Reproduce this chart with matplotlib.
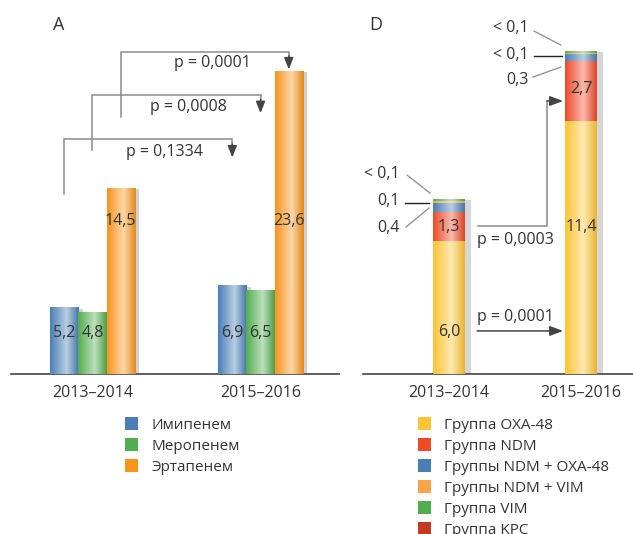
import numpy as np
import matplotlib
matplotlib.use("Agg")
import matplotlib.pyplot as plt
from matplotlib.colors import LinearSegmentedColormap, to_rgb
from matplotlib.patches import Patch
import matplotlib.patheffects as pe

plt.rcParams['font.family'] = ['Open Sans', 'DejaVu Sans']

# ---------------- data ----------------
periods = ["2013–2014", "2015–2016"]

# Panel A
drugs = ["Имипенем", "Меропенем", "Эртапенем"]
imipenem = [5.2, 6.9]
meropenem = [4.8, 6.5]
ertapenem = [14.5, 23.6]
a_labels = [["5,2", "6,9"], ["4,8", "6,5"], ["14,5", "23,6"]]
a_pvalues = ["p = 0,1334", "p = 0,0008", "p = 0,0001"]

# Panel D (stacked)
groups = ["Группа OXA-48", "Группа NDM", "Группы NDM + OXA-48",
          "Группы NDM + VIM", "Группа VIM", "Группа KPC"]
oxa48 = [6.0, 11.4]
ndm = [1.3, 2.7]
ndm_oxa = [0.4, 0.3]
ndm_vim = [0.1, 0.05]
vim = [0.1, 0.1]
kpc = [0.0, 0.0]
d_pvalues = ["p = 0,0003", "p = 0,0001"]
side_2013 = ["< 0,1", "0,1", "0,4"]
side_2015 = ["< 0,1", "< 0,1", "0,3"]

# ---------------- style ----------------
c_blue = "#4a7fb6"
c_green = "#52ad4f"
c_orange = "#f7941d"
c_yellow = "#fdc435"
c_red = "#ee4a2a"
c_orange2 = "#f8a54a"
c_kpc = "#c23a22"
txt = "#333333"
gray = "#8c8c8c"

def grad_cmap(base):
    b = np.array(to_rgb(base))
    light = b + (1 - b) * 0.62
    dark = b * 0.92
    return LinearSegmentedColormap.from_list(
        "g", [(0, b), (0.58, light), (1, dark)])

def shade_bars(ax, bars, color):
    cm = grad_cmap(color)
    g = np.linspace(0, 1, 64).reshape(1, -1)
    for r in bars:
        x, y, w, h = r.get_x(), r.get_y(), r.get_width(), r.get_height()
        if h <= 0:
            continue
        im = ax.imshow(g, cmap=cm, extent=(x, x + w, y, y + h),
                       aspect='auto', zorder=3, interpolation='bicubic')
        im.set_clip_path(r)

W, H = 633, 534
fig = plt.figure(figsize=(W / 100, H / 100), dpi=100)

# ---------------- Panel A ----------------
axA = fig.add_axes([11 / W, 160 / H, 328 / W, 374 / H])
xa = np.arange(len(periods))
bw = 0.168
offs = [-bw, 0, bw]
seriesA = [imipenem, meropenem, ertapenem]
colsA = [c_blue, c_green, c_orange]
barsA = []
shadow = [pe.SimplePatchShadow(offset=(3, -1), shadow_rgbFace='#999999', alpha=0.45),
          pe.Normal()]
for vals, col, o in zip(seriesA, colsA, offs):
    b = axA.bar(xa + o, vals, bw, color=col, zorder=2, linewidth=0)
    for r in b:
        r.set_path_effects(shadow)
    shade_bars(axA, b, col)
    barsA.append(b)

label_y_A = [3.2, 3.2, 11.9]
for i, b in enumerate(barsA):
    for j, r in enumerate(b):
        axA.text(r.get_x() + r.get_width() / 2, label_y_A[i], a_labels[i][j],
                 ha='center', va='center', fontsize=11.5, color=txt, zorder=5)

axA.set_xlim(-0.485, 1.467)
axA.set_ylim(0, 29.1)
for s in ["top", "right", "left"]:
    axA.spines[s].set_visible(False)
axA.spines["bottom"].set_color("#444444")
axA.spines["bottom"].set_linewidth(1.2)
axA.set_yticks([])
axA.set_xticks(xa)
axA.set_xticklabels(periods, fontsize=11.5, color=txt)
axA.tick_params(axis='x', length=0, pad=8)

# brackets
br_start = [14.0, 17.4, 20.0]
br_top = [18.3, 21.7, 25.06]
br_end = [16.85, 20.3, 23.7]
p_pos = [(0.426, 17.3), (0.568, 20.8), (0.711, 24.2)]
for k in range(3):
    x0 = xa[0] + offs[k]
    x1 = xa[1] + offs[k]
    axA.plot([x0, x0, x1, x1], [br_start[k], br_top[k], br_top[k], br_end[k] + 1.0],
             color=gray, lw=1.1, zorder=4, solid_joinstyle='miter')
    axA.annotate("", xy=(x1, br_end[k]), xytext=(x1, br_end[k] + 1.05),
                 arrowprops=dict(arrowstyle="-|>,head_length=0.7,head_width=0.28",
                                 color="#444444", lw=1.1, shrinkA=0, shrinkB=0),
                 zorder=4)
    axA.text(p_pos[k][0], p_pos[k][1], a_pvalues[k], ha='center', va='center',
             fontsize=11.5, color=txt, zorder=5)

fig.text(59 / W, 1 - 25 / H, "A", fontsize=13, color=txt, ha='center', va='center')

handlesA = [Patch(facecolor=c, edgecolor='none') for c in colsA]
fig.legend(handlesA, drugs, loc='upper left',
           bbox_to_anchor=(111 / W, 1 - 403 / H), frameon=False,
           fontsize=11, handlelength=0.85, handleheight=1.0,
           handletextpad=0.9, labelspacing=0.32, labelcolor=txt)

# ---------------- Panel D ----------------
axD = fig.add_axes([363 / W, 160 / H, 270 / W, 374 / H])
xd = np.arange(len(periods))
dw = 0.242
stack = [oxa48, ndm, ndm_oxa, ndm_vim, vim, kpc]
colsD = [c_yellow, c_red, c_blue, c_orange2, c_green, c_kpc]
bottom = np.zeros(len(periods))
shadowD = [pe.SimplePatchShadow(offset=(4, -1), shadow_rgbFace='#999999', alpha=0.4),
           pe.Normal()]
for vals, col in zip(stack, colsD):
    b = axD.bar(xd, vals, dw, bottom=bottom, color=col, zorder=2, linewidth=0)
    for r in b:
        r.set_path_effects(shadowD)
    shade_bars(axD, b, col)
    bottom = bottom + np.array(vals)

axD.text(xd[0], 1.89, "6,0", ha='center', va='center', fontsize=11.5, color=txt, zorder=5)
axD.text(xd[0], 6.62, "1,3", ha='center', va='center', fontsize=11.5, color=txt, zorder=5)
axD.text(xd[1], 6.62, "11,4", ha='center', va='center', fontsize=11.5, color=txt, zorder=5)
axD.text(xd[1], 12.84, "2,7", ha='center', va='center', fontsize=11.5, color=txt, zorder=5)

axD.set_xlim(-0.652, 1.394)
axD.set_ylim(0, 16.85)
for s in ["top", "right", "left"]:
    axD.spines[s].set_visible(False)
axD.spines["bottom"].set_color("#444444")
axD.spines["bottom"].set_linewidth(1.2)
axD.set_yticks([])
axD.set_xticks(xd)
axD.set_xticklabels(periods, fontsize=11.5, color=txt)
axD.tick_params(axis='x', length=0, pad=8)

# side labels with leader lines
side_y13 = [9.0, 7.8, 6.58]
lines13 = [((-0.318, 8.96), (-0.144, 8.15)), ((-0.333, 7.70), (-0.152, 7.70)),
           ((-0.326, 6.62), (-0.152, 7.48))]
for t, yy in zip(side_2013, side_y13):
    axD.text(-0.371, yy, t, ha='right', va='center', fontsize=11.5, color=txt)
for k, ln in enumerate(lines13):
    axD.plot([ln[0][0], ln[1][0]], [ln[0][1], ln[1][1]],
             color="#222222" if k == 1 else gray, lw=1.0 if k == 1 else 0.9)

side_y15 = [15.59, 14.37, 13.24]
lines15 = [((0.644, 15.45), (0.848, 14.82)), ((0.644, 14.32), (0.856, 14.32)),
           ((0.636, 13.38), (0.848, 13.83))]
for t, yy in zip(side_2015, side_y15):
    axD.text(0.606, yy, t, ha='right', va='center', fontsize=11.5, color=txt)
for k, ln in enumerate(lines15):
    axD.plot([ln[0][0], ln[1][0]], [ln[0][1], ln[1][1]],
             color="#222222" if k == 1 else gray, lw=1.0 if k == 1 else 0.9)

# p-value arrows
y_start = oxa48[0] + ndm[0] / 2
axD.plot([0.22, 0.742, 0.742], [y_start, y_start, 12.3], color=gray, lw=1.1,
         solid_joinstyle='miter')
axD.annotate("", xy=(0.864, 12.3), xytext=(0.742, 12.3),
             arrowprops=dict(arrowstyle="-|>,head_length=0.8,head_width=0.3",
                             color="#444444", lw=1.1, shrinkA=0, shrinkB=0))
axD.text(0.5, 6.04, d_pvalues[0], ha='center', va='center', fontsize=11.5, color=txt)

axD.annotate("", xy=(0.864, 1.94), xytext=(0.212, 1.94),
             arrowprops=dict(arrowstyle="-|>,head_length=0.8,head_width=0.3",
                             color="#444444", lw=1.1, shrinkA=0, shrinkB=0))
axD.text(0.5, 2.57, d_pvalues[1], ha='center', va='center', fontsize=11.5, color=txt)

fig.text(376 / W, 1 - 25 / H, "D", fontsize=13, color=txt, ha='center', va='center')

handlesD = [Patch(facecolor=c, edgecolor='none') for c in colsD]
fig.legend(handlesD, groups, loc='upper left',
           bbox_to_anchor=(404 / W, 1 - 403 / H), frameon=False,
           fontsize=11, handlelength=0.85, handleheight=1.0,
           handletextpad=0.9, labelspacing=0.32, labelcolor=txt)

fig.savefig("out.png", dpi=100)
